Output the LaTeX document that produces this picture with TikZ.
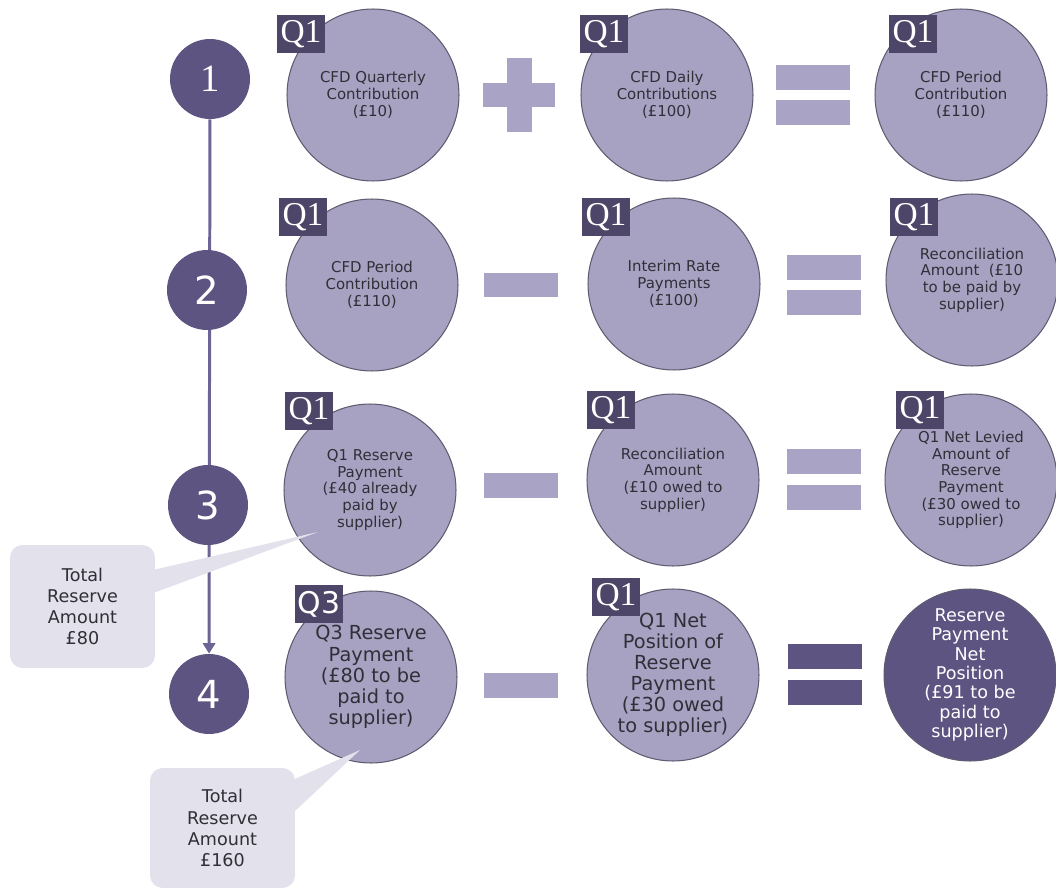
\documentclass[tikz,border=0pt]{standalone}
\usepackage{fontspec}
\setmainfont{DejaVu Sans}
\newfontfamily\qfont{Liberation Serif}
\usetikzlibrary{arrows.meta,backgrounds,calc}

\definecolor{stepcol}{HTML}{5E5482}
\definecolor{qcol}{HTML}{4E4668}
\definecolor{linecol}{HTML}{6B6494}
\definecolor{lightcol}{HTML}{A8A2C2}
\definecolor{opcol}{HTML}{A9A4C6}
\definecolor{notecol}{HTML}{E3E1EB}
\definecolor{rimcol}{HTML}{5F5B70}
\definecolor{txtcol}{HTML}{2F2F38}

\begin{document}
\begin{tikzpicture}[x=0.02cm, y=-0.02cm,
    stepnode/.style = {circle, fill=stepcol, minimum size=1.6cm, inner sep=0pt, text=white, font=\fontsize{22}{24}\selectfont},
    main/.style = {circle, draw=rimcol, line width=0.6pt, fill=lightcol, minimum size=3.44cm, inner sep=0pt, align=center, text=txtcol, font=\fontsize{8.5}{9.5}\selectfont},
    big/.style = {font=\fontsize{11}{12}\selectfont},
    qbox/.style = {fill=qcol, text=white, minimum width=0.96cm, minimum height=0.76cm, inner sep=0pt, font=\qfont\fontsize{19}{19}\selectfont},
    bar/.style = {fill=opcol, minimum width=1.5cm, minimum height=0.5cm, inner sep=0pt},
    note/.style = {fill=notecol, rounded corners=0.25cm, minimum width=2.9cm, minimum height=2.46cm, inner sep=0pt, align=center, text=txtcol, font=\fontsize{10}{12}\selectfont}]
    \useasboundingbox (0,0) rectangle (1056,889);

    % steps
    \node[stepnode, font=\qfont\fontsize{22}{24}\selectfont] (s1) at (210,79) {1};
    \node[stepnode] (s2) at (207,290) {2};
    \node[stepnode] (s3) at (208,505) {3};
    \node[stepnode] (s4) at (209,694) {4};

    \begin{scope}[on background layer]
        \draw[linecol, line width=1.7pt, -{Triangle[width=7pt,length=6pt]}] (s1) -- (s4);
    \end{scope}

    % row 1
    \node[main] (c11) at (373,95) {CFD Quarterly\\Contribution\\(£10)};
    \node[main] (c12) at (667,95) {CFD Daily\\Contributions\\(£100)};
    \node[main] (c13) at (961,95) {CFD Period\\Contribution\\(£110)};
    \node[qbox] (q11) at (301,34) {Q1};
    \node[qbox] (q12) at (604,34) {Q1};
    \node[qbox] (q13) at (913,34) {Q1};
    \node[bar, minimum width=1.44cm] (plus1) at (519,95) {};
    \node[bar, minimum width=0.5cm, minimum height=1.48cm] (plus1v) at (519,95) {};
    \node[bar] (eq1a) at (813,77.5) {};
    \node[bar] (eq1b) at (813,112.5) {};

    % row 2
    \node[main] (c21) at (372,285) {CFD Period\\Contribution\\(£110)};
    \node[main] (c22) at (674,284) {Interim Rate\\Payments\\(£100)};
    \node[main] (c23) at (972,280) {Reconciliation\\Amount\ \ (£10\\to be paid by\\supplier)};
    \node[qbox] (q21) at (303,217) {Q1};
    \node[qbox] (q22) at (606,217) {Q1};
    \node[qbox] (q23) at (914,217) {Q1};
    \node[bar] (min2) at (521,285) {};
    \node[bar] (eq2a) at (824,267.5) {};
    \node[bar] (eq2b) at (824,302.5) {};

    % row 3
    \node[main] (c31) at (370,490) {Q1 Reserve\\Payment\\(£40 already\\paid by\\supplier)};
    \node[main] (c32) at (673,480) {Reconciliation\\Amount\\(£10 owed to\\supplier)};
    \node[main] (c33) at (971,480) {Q1 Net Levied\\Amount of\\Reserve\\Payment\\(£30 owed to\\supplier)};
    \node[qbox] (q31) at (309,411) {Q1};
    \node[qbox] (q32) at (611,410) {Q1};
    \node[qbox] (q33) at (920,410) {Q1};
    \node[bar] (min3) at (521,485) {};
    \node[bar] (eq3a) at (824,461.5) {};
    \node[bar] (eq3b) at (824,497.5) {};

    % row 4
    \node[main, big] (c41) at (371,677) {Q3 Reserve\\Payment\\(£80 to be\\paid to\\supplier)};
    \node[main, big] (c42) at (673,675) {Q1 Net\\Position of\\Reserve\\Payment\\(£30 owed\\to supplier)};
    \node[main, fill=stepcol, text=white, font=\fontsize{10}{11}\selectfont] (c43) at (970,675) {Reserve\\Payment\\Net\\Position\\(£91 to be\\paid to\\supplier)};
    \node[qbox, font=\fontsize{17}{17}\selectfont] (q41) at (319,604) {Q3};
    \node[qbox] (q42) at (616,597) {Q1};
    \node[bar] (min4) at (521,685) {};
    \node[bar, fill=stepcol] (eq4a) at (825,656.5) {};
    \node[bar, fill=stepcol] (eq4b) at (825,692.5) {};

    % totals
    \node[note] (n1) at (82.5,606.5) {Total\\Reserve\\Amount\\£80};
    \coordinate (t1) at (318,532);
    \fill[notecol] ($(n1.north east)+(-1,25)$) -- (t1) -- ($(n1.north east)+(-1,48)$) -- cycle;

    \node[note, minimum height=2.4cm] (n2) at (222.5,828) {Total\\Reserve\\Amount\\£160};
    \coordinate (t2) at (360,750);
    \fill[notecol] ($(n2.north east)+(-2,12)$) -- (t2) -- ($(n2.north east)+(-2,45)$) -- cycle;
\end{tikzpicture}
\end{document}
